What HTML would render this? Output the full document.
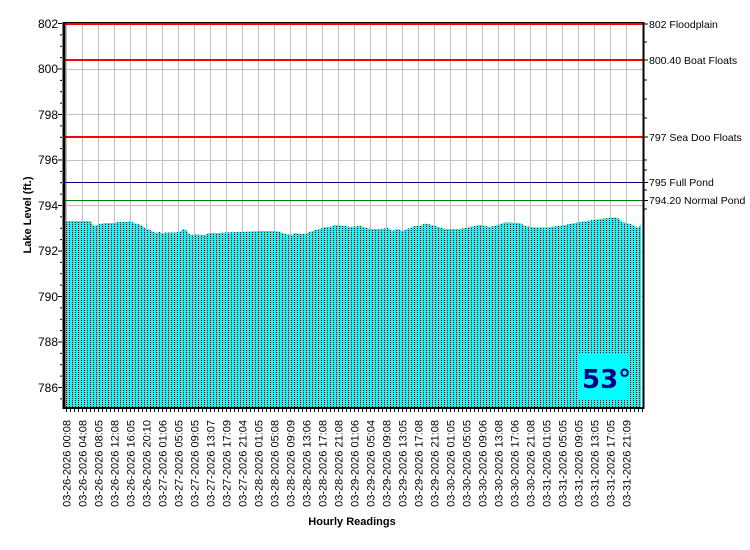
<!DOCTYPE html>
<html><head><meta charset="utf-8"><style>
html,body{margin:0;padding:0;background:#fff;}
svg{display:block;font-family:"Liberation Sans",sans-serif;}
</style></head><body>
<svg width="750" height="550" xmlns="http://www.w3.org/2000/svg">
<defs>
<pattern id="dots" x="66" y="0" width="3" height="2" patternUnits="userSpaceOnUse">
<rect width="3" height="2" fill="#00ffff"/>
<rect x="0" y="0" width="1" height="1" fill="#000"/>
</pattern>
<pattern id="vgrid" x="82" y="0" width="16" height="10" patternUnits="userSpaceOnUse">
<rect x="0" y="0" width="1" height="10" fill="#c0c0c0"/>
</pattern>
<pattern id="xtick" x="66" y="0" width="4" height="10" patternUnits="userSpaceOnUse">
<rect x="0" y="0" width="1" height="10" fill="#000"/>
</pattern>
</defs>
<rect width="750" height="550" fill="#fff"/>
<rect x="66" y="23" width="574" height="384" fill="url(#vgrid)"/>
<g stroke="#c0c0c0" stroke-width="1">
<line x1="65" y1="69.5" x2="643" y2="69.5"/>
<line x1="65" y1="114.5" x2="643" y2="114.5"/>
<line x1="65" y1="160.5" x2="643" y2="160.5"/>
<line x1="65" y1="205.5" x2="643" y2="205.5"/>
<line x1="65" y1="251.5" x2="643" y2="251.5"/>
<line x1="65" y1="296.5" x2="643" y2="296.5"/>
<line x1="65" y1="342.5" x2="643" y2="342.5"/>
<line x1="65" y1="387.5" x2="643" y2="387.5"/>
</g>
<polygon fill="url(#dots)" points="66,407 66,221 90,221 94,226 100,224 105,223 115,223 117,222 128,222 130,221 135,223.5 140,224.5 145,228 150,230 155,233 160,232 162,234 165,232.5 175,232.5 180,232 183,229 186,230 190,235 195,234.5 205,235 210,233 220,233 225,232.5 240,232 260,231 275,231 280,232 285,234 292,235 295,233 300,234 305,234 310,232 315,230 320,229 325,227 330,227 335,225 345,226 350,227 360,226 370,229 380,229 388,228 392,231 398,229 402,231 410,228 415,226 420,226 425,223.5 430,224.5 435,226 445,229 455,229 460,229 470,227 480,225 490,227 498,225 505,222.5 520,223 525,226 535,227.5 545,227.5 555,226.5 565,225 575,223 590,220.5 600,219 613,217.5 618,218 622,222 630,224 635,226 638,228 640,226 641,224 641,407"/>
<line x1="65" y1="24" x2="643" y2="24" stroke="#ff0000" stroke-width="2"/>
<line x1="65" y1="60" x2="643" y2="60" stroke="#ff0000" stroke-width="2"/>
<line x1="65" y1="137" x2="643" y2="137" stroke="#ff0000" stroke-width="2"/>
<line x1="65" y1="182.5" x2="643" y2="182.5" stroke="#000080" stroke-width="1"/>
<line x1="65" y1="200.5" x2="643" y2="200.5" stroke="#008000" stroke-width="1"/>
<rect x="577" y="353" width="53" height="47" fill="#00ffff"/>
<text x="582" y="388" font-size="26" font-weight="bold" fill="#000080" font-family="DejaVu Sans,sans-serif">53°</text>
<line x1="64" y1="22" x2="64" y2="409" stroke="#000" stroke-width="3"/>
<line x1="643.5" y1="22" x2="643.5" y2="409" stroke="#000" stroke-width="2"/>
<line x1="63" y1="408" x2="644" y2="408" stroke="#000" stroke-width="2"/>
<line x1="63" y1="22.5" x2="644" y2="22.5" stroke="#000" stroke-width="1"/>
<rect x="66" y="409" width="577" height="3" fill="url(#xtick)"/>
<g font-size="12" fill="#000" text-anchor="end">
<text x="58" y="28">802</text><text x="58" y="73">800</text><text x="58" y="119">798</text><text x="58" y="164">796</text><text x="58" y="210">794</text><text x="58" y="255">792</text><text x="58" y="301">790</text><text x="58" y="346">788</text><text x="58" y="392">786</text>
</g>
<path stroke="#000" stroke-width="1" fill="none" d="M58 23.5H62M60 34.9H62M60 46.25H62M60 57.6H62M58 69H62M60 80.4H62M60 91.75H62M60 103.1H62M58 114.5H62M60 125.9H62M60 137.25H62M60 148.6H62M58 160H62M60 171.4H62M60 182.75H62M60 194.1H62M58 205.5H62M60 216.9H62M60 228.25H62M60 239.6H62M58 251H62M60 262.4H62M60 273.75H62M60 285.1H62M58 296.5H62M60 307.9H62M60 319.25H62M60 330.6H62M58 342H62M60 353.4H62M60 364.75H62M60 376.1H62M58 387.5H62M60 398.9H62"/>
<path stroke="#000" stroke-width="1" fill="none" d="M644 24H648M644 60H648M644 137H648M644 182.5H648M644 200.5H648M644 42H647M644 80H647M644 99H647M644 118H647M644 160H647M644 170H647M644 190H647M644 209H647"/>
<g font-size="10.5" fill="#000">
<text x="649" y="28">802 Floodplain</text>
<text x="649" y="64">800.40 Boat Floats</text>
<text x="649" y="141">797 Sea Doo Floats</text>
<text x="649" y="186">795 Full Pond</text>
<text x="649" y="204">794.20 Normal Pond</text>
</g>
<g font-size="11" fill="#000" text-anchor="end">
<text transform="translate(70.5,420) rotate(-90)">03-26-2026 00:08</text>
<text transform="translate(86.5,420) rotate(-90)">03-26-2026 04:08</text>
<text transform="translate(102.5,420) rotate(-90)">03-26-2026 08:05</text>
<text transform="translate(118.5,420) rotate(-90)">03-26-2026 12:08</text>
<text transform="translate(134.5,420) rotate(-90)">03-26-2026 16:05</text>
<text transform="translate(150.5,420) rotate(-90)">03-26-2026 20:10</text>
<text transform="translate(166.5,420) rotate(-90)">03-27-2026 01:06</text>
<text transform="translate(182.5,420) rotate(-90)">03-27-2026 05:05</text>
<text transform="translate(198.5,420) rotate(-90)">03-27-2026 09:05</text>
<text transform="translate(214.5,420) rotate(-90)">03-27-2026 13:07</text>
<text transform="translate(230.5,420) rotate(-90)">03-27-2026 17:09</text>
<text transform="translate(246.5,420) rotate(-90)">03-27-2026 21:04</text>
<text transform="translate(262.5,420) rotate(-90)">03-28-2026 01:05</text>
<text transform="translate(278.5,420) rotate(-90)">03-28-2026 05:08</text>
<text transform="translate(294.5,420) rotate(-90)">03-28-2026 09:09</text>
<text transform="translate(310.5,420) rotate(-90)">03-28-2026 13:06</text>
<text transform="translate(326.5,420) rotate(-90)">03-28-2026 17:08</text>
<text transform="translate(342.5,420) rotate(-90)">03-28-2026 21:08</text>
<text transform="translate(358.5,420) rotate(-90)">03-29-2026 01:06</text>
<text transform="translate(374.5,420) rotate(-90)">03-29-2026 05:04</text>
<text transform="translate(390.5,420) rotate(-90)">03-29-2026 09:08</text>
<text transform="translate(406.5,420) rotate(-90)">03-29-2026 13:05</text>
<text transform="translate(422.5,420) rotate(-90)">03-29-2026 17:08</text>
<text transform="translate(438.5,420) rotate(-90)">03-29-2026 21:08</text>
<text transform="translate(454.5,420) rotate(-90)">03-30-2026 01:05</text>
<text transform="translate(470.5,420) rotate(-90)">03-30-2026 05:05</text>
<text transform="translate(486.5,420) rotate(-90)">03-30-2026 09:06</text>
<text transform="translate(502.5,420) rotate(-90)">03-30-2026 13:08</text>
<text transform="translate(518.5,420) rotate(-90)">03-30-2026 17:06</text>
<text transform="translate(534.5,420) rotate(-90)">03-30-2026 21:08</text>
<text transform="translate(550.5,420) rotate(-90)">03-31-2026 01:05</text>
<text transform="translate(566.5,420) rotate(-90)">03-31-2026 05:05</text>
<text transform="translate(582.5,420) rotate(-90)">03-31-2026 09:05</text>
<text transform="translate(598.5,420) rotate(-90)">03-31-2026 13:05</text>
<text transform="translate(614.5,420) rotate(-90)">03-31-2026 17:05</text>
<text transform="translate(630.5,420) rotate(-90)">03-31-2026 21:09</text>
</g>
<text x="352" y="525" font-size="11" font-weight="bold" text-anchor="middle">Hourly Readings</text>
<text transform="translate(31,215) rotate(-90)" font-size="11" font-weight="bold" text-anchor="middle">Lake Level (ft.)</text>
</svg>
</body></html>
